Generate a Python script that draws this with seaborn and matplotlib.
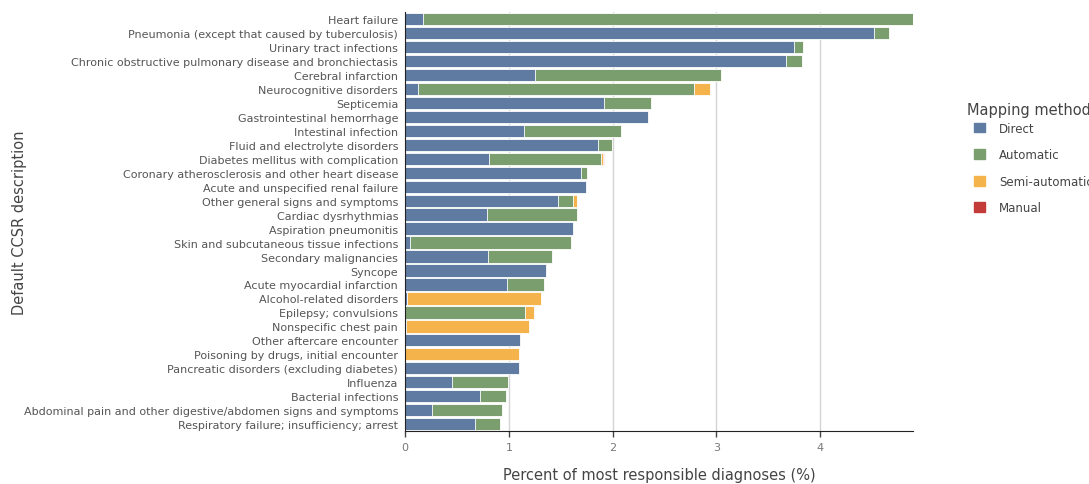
import pandas as pd
import matplotlib.pyplot as plt
import matplotlib.patches as mpatches
import seaborn as sns

categories = [
    'Heart failure',
    'Pneumonia (except that caused by tuberculosis)',
    'Urinary tract infections',
    'Chronic obstructive pulmonary disease and bronchiectasis',
    'Cerebral infarction',
    'Neurocognitive disorders',
    'Septicemia',
    'Gastrointestinal hemorrhage',
    'Intestinal infection',
    'Fluid and electrolyte disorders',
    'Diabetes mellitus with complication',
    'Coronary atherosclerosis and other heart disease',
    'Acute and unspecified renal failure',
    'Other general signs and symptoms',
    'Cardiac dysrhythmias',
    'Aspiration pneumonitis',
    'Skin and subcutaneous tissue infections',
    'Secondary malignancies',
    'Syncope',
    'Acute myocardial infarction',
    'Alcohol-related disorders',
    'Epilepsy; convulsions',
    'Nonspecific chest pain',
    'Other aftercare encounter',
    'Poisoning by drugs, initial encounter',
    'Pancreatic disorders (excluding diabetes)',
    'Influenza',
    'Bacterial infections',
    'Abdominal pain and other digestive/abdomen signs and symptoms',
    'Respiratory failure; insufficiency; arrest',
]

direct = [0.17, 4.52, 3.745, 3.675, 1.255, 0.12, 1.918, 2.34, 1.146, 1.857,
          0.812, 1.697, 1.742, 1.476, 0.79, 1.614, 0.05, 0.803, 1.357, 0.985,
          0.015, 0.0, 0.01, 1.108, 0.0, 1.094, 0.454, 0.726, 0.26, 0.678]
automatic = [4.72, 0.14, 0.09, 0.145, 1.788, 2.66, 0.449, 0.0, 0.936, 0.141,
             1.08, 0.058, 0.0, 0.144, 0.862, 0.0, 1.544, 0.612, 0.0, 0.353,
             0.0, 1.152, 0.0, 0.0, 0.0, 0.0, 0.535, 0.25, 0.677, 0.24]
semi_automatic = [0.0, 0.0, 0.0, 0.0, 0.0, 0.16, 0.0, 0.0, 0.0, 0.0,
                  0.014, 0.0, 0.0, 0.032, 0.0, 0.0, 0.0, 0.0, 0.0, 0.0,
                  1.295, 0.093, 1.18, 0.0, 1.10, 0.0, 0.0, 0.0, 0.0, 0.0]
manual = [0.0, 0.0, 0.0, 0.0, 0.0, 0.0, 0.0, 0.0, 0.0, 0.0,
          0.009, 0.0, 0.0, 0.0, 0.0, 0.0, 0.0, 0.0, 0.0, 0.0,
          0.0, 0.0, 0.0, 0.0, 0.0, 0.0, 0.0, 0.0, 0.0, 0.0]

methods = ['Direct', 'Automatic', 'Semi-automatic', 'Manual']
colors = ['#5f7ba1', '#7a9e6e', '#f5b44b', '#c43c39']

df = pd.DataFrame({'ccsr': categories, 'Direct': direct, 'Automatic': automatic,
                   'Semi-automatic': semi_automatic, 'Manual': manual})
cum = df[methods].cumsum(axis=1)
cum['ccsr'] = df['ccsr']

sns.set_style('white')
plt.rcParams['font.family'] = ['DejaVu Sans']

fig = plt.figure(figsize=(10.89, 4.85), dpi=100)
ax = fig.add_axes([0.372, 0.109, 0.466, 0.864])

# draw stacked bars back to front
for method, color in reversed(list(zip(methods, colors))):
    sns.barplot(x=method, y='ccsr', data=cum, color=color, orient='h',
                width=0.88, saturation=1, edgecolor='white', linewidth=0.6, ax=ax)

ax.set_xlim(0, 4.89)
ax.set_xticks([0, 1, 2, 3, 4])
ax.grid(axis='x', color='#d4d4d4', linewidth=1)
ax.set_axisbelow(True)
for s in ['top', 'right']:
    ax.spines[s].set_visible(False)
ax.spines['left'].set_color('#222222')
ax.spines['bottom'].set_color('#222222')
ax.tick_params(axis='y', length=4, width=1, color='#444444', labelsize=8, labelcolor='#555555', pad=1)
ax.tick_params(axis='x', length=4, width=1, color='#444444', labelsize=8, labelcolor='#777777', bottom=True)

ax.set_xlabel('Percent of most responsible diagnoses (%)', fontsize=10.5, color='#444444')
ax.xaxis.set_label_coords(0.5, -0.086)
ax.set_ylabel('Default CCSR description', fontsize=10.5, color='#444444')
ax.yaxis.set_label_coords(-0.745, 0.5)

fig.text(967 / 1089, 1 - 110 / 485, 'Mapping method', fontsize=10.5,
         color='#444444', va='center', ha='left')
handles = [mpatches.Patch(color=c, label=m) for m, c in zip(methods, colors)]
leg = fig.legend(handles=handles, loc='upper left',
                 bbox_to_anchor=(0.885, 0.769), frameon=False, fontsize=8.5,
                 handlelength=0.9, handleheight=0.9,
                 labelspacing=1.15, handletextpad=1.2)
for t in leg.get_texts():
    t.set_color('#444444')

plt.savefig('out.png', dpi=100)
